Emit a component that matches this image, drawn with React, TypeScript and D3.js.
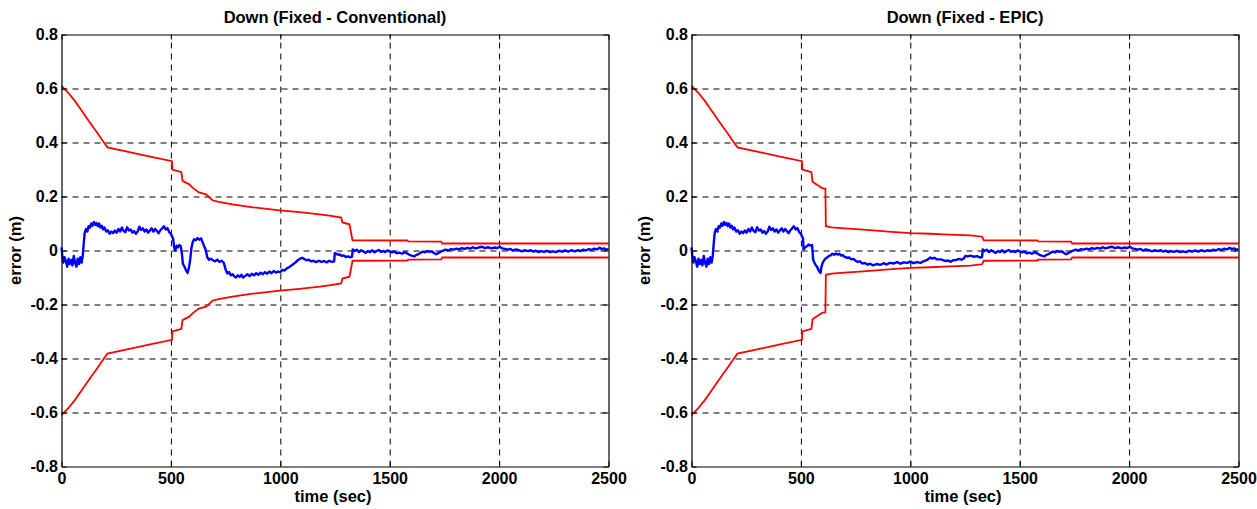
import React, { useEffect, useRef } from "react";
import * as d3 from "d3";

type Pt = [number, number];

const xTicks = [0, 500, 1000, 1500, 2000, 2500];
const yTicks = [-0.8, -0.6, -0.4, -0.2, 0, 0.2, 0.4, 0.6, 0.8];

// error, first 510 s (same run in both panels)
const errHead: Pt[] = [
  [0, 0.012], [4, -0.02], [8, -0.045], [14, -0.025], [20, -0.04], [26, -0.06], [32, -0.03],
  [38, -0.05], [44, -0.035], [50, -0.055], [56, -0.02], [62, -0.045], [68, -0.06], [74, -0.03],
  [80, -0.05], [86, -0.025], [92, -0.045], [97, -0.02], [102, 0.03], [106, 0.065], [112, 0.08],
  [118, 0.07], [124, 0.09], [130, 0.085], [136, 0.1], [142, 0.092], [148, 0.106], [154, 0.095],
  [160, 0.102], [166, 0.09], [172, 0.1], [178, 0.085], [184, 0.092], [190, 0.078], [196, 0.085],
  [204, 0.07], [212, 0.075], [220, 0.062], [228, 0.07], [236, 0.064], [244, 0.074], [252, 0.066],
  [260, 0.08], [268, 0.07], [276, 0.085], [284, 0.072], [292, 0.068], [300, 0.086], [308, 0.074],
  [316, 0.078], [324, 0.066], [332, 0.072], [340, 0.062], [348, 0.07], [356, 0.088], [364, 0.076],
  [372, 0.082], [380, 0.07], [388, 0.078], [396, 0.066], [404, 0.074], [412, 0.082], [420, 0.07],
  [428, 0.08], [436, 0.072], [444, 0.064], [452, 0.075], [460, 0.082], [468, 0.09], [476, 0.078],
  [484, 0.083], [492, 0.068], [500, 0.062], [506, 0.05],
];

// error, 510..1330 s, conventional
const errMidConv: Pt[] = [
  [510, 0.045], [515, 0.01], [520, 0.0], [526, 0.018], [532, 0.012], [538, 0.02], [545, 0.016],
  [550, -0.01], [555, -0.05], [562, -0.06], [570, -0.075], [576, -0.083], [582, -0.066],
  [588, -0.035], [594, 0.01], [600, 0.032], [606, 0.042], [614, 0.038], [622, 0.046], [630, 0.04],
  [638, 0.045], [646, 0.028], [654, 0.012], [660, 0.0], [666, -0.025], [674, -0.034], [682, -0.03],
  [692, -0.036], [702, -0.04], [712, -0.034], [722, -0.042], [732, -0.038], [742, -0.046],
  [750, -0.07], [758, -0.085], [766, -0.08], [774, -0.092], [782, -0.088], [790, -0.096],
  [798, -0.1], [806, -0.092], [814, -0.098], [822, -0.09], [830, -0.1], [840, -0.094],
  [850, -0.088], [860, -0.095], [870, -0.086], [880, -0.092], [890, -0.084], [900, -0.09],
  [910, -0.082], [920, -0.088], [930, -0.08], [940, -0.086], [950, -0.078], [960, -0.084],
  [970, -0.076], [980, -0.082], [990, -0.078], [1000, -0.08], [1010, -0.072], [1020, -0.074],
  [1030, -0.066], [1040, -0.062], [1050, -0.056], [1060, -0.05], [1070, -0.044], [1080, -0.036],
  [1090, -0.03], [1100, -0.027], [1110, -0.032], [1120, -0.036], [1130, -0.034], [1140, -0.04],
  [1150, -0.038], [1164, -0.043], [1176, -0.038], [1188, -0.042], [1200, -0.039], [1212, -0.044],
  [1224, -0.038], [1236, -0.042], [1246, -0.04], [1249, -0.01], [1256, -0.012], [1264, -0.016],
  [1272, -0.014], [1280, -0.02], [1290, -0.018], [1300, -0.024], [1310, -0.022], [1320, -0.025],
  [1328, -0.023],
];

// error, 510..1330 s, EPIC
const errMidEpic: Pt[] = [
  [510, 0.045], [512, 0.004], [520, 0.012], [527, 0.016], [535, 0.022], [543, 0.018], [551, 0.02],
  [556, -0.034], [562, -0.045], [568, -0.055], [574, -0.06], [580, -0.072], [586, -0.08],
  [590, -0.083], [594, -0.06], [600, -0.045], [606, -0.036], [613, -0.03], [620, -0.026],
  [628, -0.02], [636, -0.018], [644, -0.012], [652, -0.016], [660, -0.011], [668, -0.015],
  [676, -0.012], [684, -0.019], [692, -0.017], [700, -0.024], [711, -0.027], [720, -0.026],
  [730, -0.033], [740, -0.031], [750, -0.038], [760, -0.042], [770, -0.04], [780, -0.048],
  [792, -0.046], [803, -0.052], [816, -0.049], [830, -0.055], [846, -0.05], [864, -0.053],
  [878, -0.047], [890, -0.052], [906, -0.046], [925, -0.048], [940, -0.043], [955, -0.049],
  [970, -0.044], [986, -0.046], [1000, -0.041], [1015, -0.047], [1030, -0.043], [1047, -0.046],
  [1060, -0.04], [1075, -0.036], [1092, -0.026], [1100, -0.03], [1110, -0.027], [1122, -0.033],
  [1138, -0.033], [1150, -0.036], [1162, -0.039], [1174, -0.037], [1184, -0.042], [1196, -0.036],
  [1210, -0.035], [1222, -0.031], [1234, -0.034], [1245, -0.029], [1252, -0.02], [1262, -0.022],
  [1275, -0.019], [1290, -0.023], [1305, -0.021], [1318, -0.026], [1328, -0.024],
];

// error after 1330 s (same in both panels)
const errTail: Pt[] = [
  [1331, 0.004], [1340, -0.002], [1350, 0.003], [1360, -0.006], [1370, 0.001], [1380, -0.004],
  [1390, -0.009], [1400, -0.002], [1410, -0.006], [1420, 0.001], [1430, -0.007], [1440, -0.002],
  [1450, 0.002], [1460, -0.005], [1470, -0.002], [1480, -0.006], [1490, 0.0], [1500, -0.003],
  [1510, -0.007], [1520, -0.004], [1532, -0.01], [1545, -0.008], [1556, -0.012], [1570, -0.006],
  [1580, -0.011], [1590, -0.016], [1600, -0.019], [1613, -0.022], [1622, -0.016], [1632, -0.013],
  [1642, -0.008], [1652, -0.004], [1662, -0.007], [1672, -0.002], [1682, -0.005], [1692, -0.003],
  [1702, -0.009], [1712, -0.014], [1722, -0.01], [1732, -0.005], [1745, 0.0], [1756, 0.003],
  [1768, 0.0], [1780, 0.005], [1792, 0.003], [1805, 0.007], [1818, 0.004], [1830, 0.009],
  [1842, 0.006], [1855, 0.01], [1868, 0.007], [1880, 0.012], [1892, 0.008], [1905, 0.011],
  [1922, 0.014], [1935, 0.009], [1950, 0.012], [1965, 0.008], [1980, 0.011], [1992, 0.009],
  [2002, 0.014], [2014, 0.008], [2026, 0.006], [2040, 0.003], [2052, 0.006], [2063, 0.0],
  [2076, 0.004], [2090, 0.001], [2104, -0.003], [2118, 0.001], [2132, -0.002], [2145, 0.001],
  [2155, -0.004], [2168, -0.001], [2180, -0.006], [2192, -0.002], [2205, -0.005], [2218, -0.001],
  [2232, -0.006], [2246, -0.003], [2260, -0.006], [2274, -0.001], [2288, -0.004], [2302, 0.0],
  [2316, -0.004], [2330, 0.001], [2345, -0.003], [2360, 0.001], [2372, -0.002], [2383, 0.003],
  [2396, 0.0], [2410, 0.005], [2422, 0.002], [2435, 0.007], [2448, 0.004], [2459, 0.01],
  [2470, 0.005], [2480, 0.008], [2490, 0.003], [2500, 0.005],
];

// 3-sigma bound (upper side; lower side is the same with opposite sign)
const boundConv: Pt[] = [
  [0, 0.61], [30, 0.585], [60, 0.555], [90, 0.52], [128, 0.476], [160, 0.44], [190, 0.405],
  [210, 0.382], [300, 0.366], [400, 0.349], [505, 0.331], [507, 0.3], [540, 0.292], [548, 0.29],
  [553, 0.258], [584, 0.245], [600, 0.232], [628, 0.215], [661, 0.208], [690, 0.186],
  [718, 0.18], [782, 0.171], [874, 0.16], [997, 0.149], [1088, 0.142], [1180, 0.134],
  [1232, 0.128], [1278, 0.122], [1284, 0.104], [1316, 0.097], [1330, 0.038], [1580, 0.037],
  [1585, 0.034], [1735, 0.033], [1740, 0.026], [2500, 0.026],
];

const boundEpic: Pt[] = [
  [0, 0.61], [30, 0.585], [60, 0.555], [90, 0.52], [128, 0.476], [160, 0.44], [190, 0.405],
  [210, 0.382], [300, 0.366], [400, 0.349], [505, 0.331], [507, 0.3], [540, 0.292], [548, 0.29],
  [553, 0.255], [570, 0.245], [597, 0.231], [612, 0.229], [614, 0.09], [640, 0.086],
  [700, 0.082], [786, 0.077], [900, 0.07], [1001, 0.064], [1092, 0.062], [1152, 0.06],
  [1275, 0.056], [1328, 0.051], [1336, 0.038], [1580, 0.037], [1585, 0.034], [1735, 0.033],
  [1740, 0.026], [2500, 0.026],
];

const panels = [
  { title: "Down (Fixed - Conventional)", left: 61.5, right: 608.5, err: [...errHead, ...errMidConv, ...errTail], bound: boundConv, ylabX: 15 },
  { title: "Down (Fixed - EPIC)", left: 691.5, right: 1238.5, err: [...errHead, ...errMidEpic, ...errTail], bound: boundEpic, ylabX: 644 },
];

const App = () => {
  const svgRef = useRef<SVGSVGElement | null>(null);

  useEffect(() => {
    const width = 1257;
    const height = 509;
    const top = 34.5;
    const bottom = 466.5;
    const font = "'Liberation Sans', Arial, Helvetica, sans-serif";

    const svg = d3.select(svgRef.current).attr("width", width).attr("height", height);
    svg.selectAll("*").remove();
    svg.append("rect").attr("width", width).attr("height", height).attr("fill", "#fff");

    const yFmt = (d: number) => (d === 0 ? "0" : d.toFixed(1));

    panels.forEach((p) => {
      const x = d3.scaleLinear().domain([0, 2500]).range([p.left, p.right]);
      const y = d3.scaleLinear().domain([-0.8, 0.8]).range([bottom, top]);
      const g = svg.append("g");

      // dashed grid
      g.append("g")
        .attr("transform", `translate(0,${bottom})`)
        .call(d3.axisBottom(x).tickValues(xTicks.slice(1, -1)).tickSize(-(bottom - top)).tickFormat(() => ""))
        .call((a) => a.select(".domain").remove())
        .selectAll("line")
        .attr("stroke", "#000")
        .attr("stroke-width", 1)
        .attr("stroke-dasharray", "6,5");
      g.append("g")
        .attr("transform", `translate(${p.left},0)`)
        .call(d3.axisLeft(y).tickValues(yTicks.slice(1, -1)).tickSize(-(p.right - p.left)).tickFormat(() => ""))
        .call((a) => a.select(".domain").remove())
        .selectAll("line")
        .attr("stroke", "#000")
        .attr("stroke-width", 1)
        .attr("stroke-dasharray", "6,5");

      const line = d3
        .line<Pt>()
        .x((d) => x(d[0]))
        .y((d) => y(d[1]));

      g.append("path")
        .datum(p.bound)
        .attr("fill", "none")
        .attr("stroke", "#ff0000")
        .attr("stroke-width", 1.8)
        .attr("d", line);
      g.append("path")
        .datum(p.bound.map((d) => [d[0], -d[1]] as Pt))
        .attr("fill", "none")
        .attr("stroke", "#ff0000")
        .attr("stroke-width", 1.8)
        .attr("d", line);
      g.append("path")
        .datum(p.err)
        .attr("fill", "none")
        .attr("stroke", "#0000ff")
        .attr("stroke-width", 2.4)
        .attr("stroke-linejoin", "round")
        .attr("d", line);

      // box with inward ticks
      const ax = (sel: d3.Selection<SVGGElement, unknown, null, undefined>) =>
        sel.selectAll("path.domain").attr("stroke", "#000").attr("stroke-width", 1.2);

      const bAx = g.append("g")
        .attr("transform", `translate(0,${bottom})`)
        .call(d3.axisBottom(x).tickValues(xTicks).tickSizeInner(-5).tickSizeOuter(0).tickPadding(6.5).tickFormat((d) => String(d)));
      ax(bAx);
      bAx.selectAll("text").attr("font-family", font).attr("font-size", 16).attr("font-weight", "bold").attr("fill", "#000");
      bAx.selectAll("line").attr("stroke", "#000");

      const tAx = g.append("g")
        .attr("transform", `translate(0,${top})`)
        .call(d3.axisTop(x).tickValues(xTicks).tickSizeInner(-5).tickSizeOuter(0).tickFormat(() => ""));
      ax(tAx);
      tAx.selectAll("line").attr("stroke", "#000");

      const lAx = g.append("g")
        .attr("transform", `translate(${p.left},0)`)
        .call(d3.axisLeft(y).tickValues(yTicks).tickSizeInner(-5).tickSizeOuter(0).tickPadding(3.5).tickFormat((d) => yFmt(+d)));
      ax(lAx);
      lAx.selectAll("text").attr("font-family", font).attr("font-size", 16).attr("font-weight", "bold").attr("fill", "#000");
      lAx.selectAll("line").attr("stroke", "#000");

      const rAx = g.append("g")
        .attr("transform", `translate(${p.right},0)`)
        .call(d3.axisRight(y).tickValues(yTicks).tickSizeInner(-5).tickSizeOuter(0).tickFormat(() => ""));
      ax(rAx);
      rAx.selectAll("line").attr("stroke", "#000");

      const cx = (p.left + p.right) / 2;
      g.append("text")
        .attr("x", cx)
        .attr("y", 23)
        .attr("text-anchor", "middle")
        .attr("font-family", font)
        .attr("font-size", 16.5)
        .attr("font-weight", "bold")
        .text(p.title);
      g.append("text")
        .attr("x", cx - 2)
        .attr("y", 502)
        .attr("text-anchor", "middle")
        .attr("font-family", font)
        .attr("font-size", 16.5)
        .attr("font-weight", "bold")
        .text("time (sec)");
      g.append("text")
        .attr("transform", `translate(${p.ylabX},${(top + bottom) / 2}) rotate(-90)`)
        .attr("text-anchor", "middle")
        .attr("dy", "0.35em")
        .attr("font-family", font)
        .attr("font-size", 16.5)
        .attr("font-weight", "bold")
        .text("error (m)");
    });
  }, []);

  return (
    <div style={{ position: "absolute", left: 0, top: 0, width: 1257, height: 509, overflow: "hidden" }}>
      <svg ref={svgRef} style={{ display: "block" }}></svg>
    </div>
  );
};

export default App;
